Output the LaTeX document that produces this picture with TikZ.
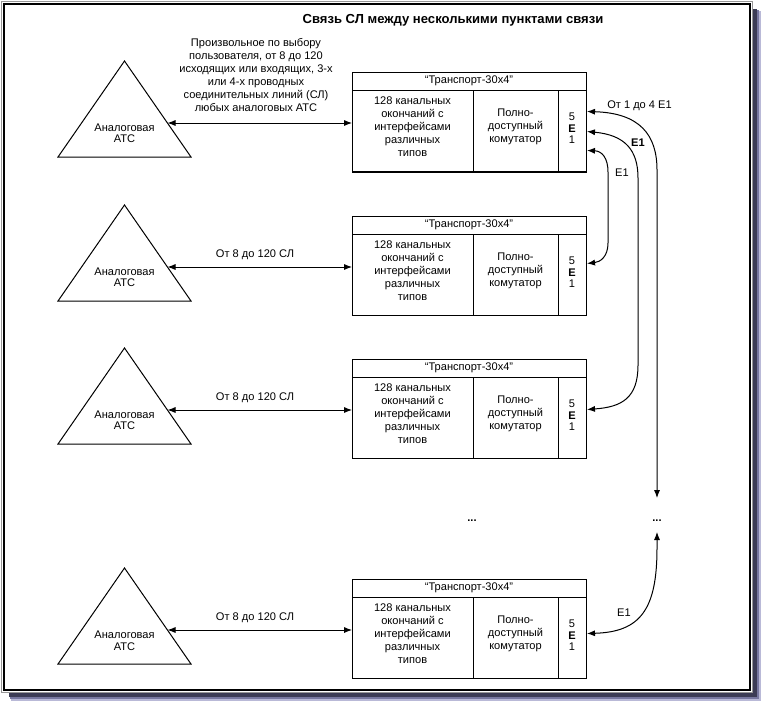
\documentclass[tikz,border=0pt]{standalone}
\usepackage{fontspec}
\setmainfont{Liberation Sans}
\usetikzlibrary{arrows.meta,calc}
\definecolor{shA}{RGB}{185,185,215}
\definecolor{shB}{RGB}{120,120,160}
\definecolor{shC}{RGB}{60,60,85}
\definecolor{frgray}{RGB}{150,150,150}
\begin{document}
\begin{tikzpicture}[x=0.75pt,y=-0.75pt,
  txt/.style={font=\fontsize{8.3}{9.75}\selectfont, align=center, inner sep=0pt},
  tight/.style={font=\fontsize{8.3}{8.6}\selectfont, align=center, inner sep=0pt},
  thin/.style={line width=0.75pt},
  conn/.style={line width=0.75pt, {Latex[length=6pt,width=4.6pt]}-{Latex[length=6pt,width=4.6pt]}},
  blk/.style={draw, line width=0.75pt, minimum width=175.5pt, minimum height=74.25pt, inner sep=0pt, anchor=north west},
]
\useasboundingbox (0,0) rectangle (762,703);
% frame with shadow
\fill[shA] (11,11) rectangle (761,701);
\fill[shB] (10,10) rectangle (759,699);
\fill[shC] (9,9) rectangle (757,697);
\draw[frgray, fill=white, line width=0.75pt] (1,1) rectangle (752.5,692.5);
\draw[line width=1.2pt] (4,4) rectangle (750,690);

\node[font=\bfseries\fontsize{9.8}{11}\selectfont, inner sep=0pt] (title) at (453,20) {Связь СЛ между несколькими пунктами связи};

\foreach \i/\T in {1/72,2/216,3/359,4/579}{
  \draw[thin] (58,\T+85) -- (124.5,\T-11) -- (191,\T+85) -- cycle;
  \node[tight] (atc\i) at (124.5,\T+61.5) {Аналоговая\\АТС};
  \coordinate (tp\i) at (167.5,\T+51);
  \node[blk] (box\i) at (352,\T) {};
  \draw[thin] ($(box\i.north west)+(0,18)$) -- ($(box\i.north east)+(0,18)$);
  \draw[thin] (473,\T+18) -- (473,\T+99);
  \draw[thin] (558,\T+18) -- (558,\T+99);
  \node[txt] (hdr\i) at (469,\T+9) {“Транспорт-30х4”};
  \node[txt] (ch\i) at (412.5,\T+55) {128 канальных\\окончаний с\\интерфейсами\\различных\\типов};
  \node[txt] (sw\i) at (515.5,\T+55) {Полно-\\доступный\\комутатор};
  \node[tight] (e\i) at (572,\T+56.5) {5\\\textbf{E}\\1};
  \draw[conn] (tp\i) -- (tp\i -| box\i.west);
}
\draw[line width=1.5pt] (box1.south west) -- (box1.south east);

\node[txt] (lbl1) at (256,74.5) {Произвольное по выбору\\пользователя, от 8 до 120\\исходящих или входящих, 3-х\\или 4-х проводных\\соединительных линий (СЛ)\\любых аналоговых АТС};
\node[txt] (lbl2) at (255,255) {От 8 до 120 СЛ};
\node[txt] (lbl3) at (255,398) {От 8 до 120 СЛ};
\node[txt] (lbl4) at (255,618) {От 8 до 120 СЛ};

\node[txt, font=\bfseries\fontsize{8.3}{9.75}\selectfont] (dots1) at (472,521) {...};
\node[txt, font=\bfseries\fontsize{8.3}{9.75}\selectfont] (dots2) at (657,521) {...};

\path (box1.east) ++(0,-10.5) coordinate (b1p1) ++(0,20) coordinate (b1p2) ++(0,19) coordinate (b1p3);
\path (box2.east) ++(0,-2.5) coordinate (b2p);
\path (box3.east) ++(0,0.5) coordinate (b3p);
\path (box4.east) ++(0,4.5) coordinate (b4p);
\coordinate (d2top) at ($(dots2)+(0,-23)$);
\coordinate (d2bot) at ($(dots2)+(0,11)$);

\draw[conn] (b1p1) .. controls (640,113) and (657,135) .. (657,170) -- (d2top);
\draw[conn] (b1p2) .. controls (625,135) and (638,150) .. (638,178) -- (638,365) .. controls (638,398) and (622,407) .. (b3p);
\draw[conn] (b1p3) .. controls (602,151) and (608,158) .. (608,172) -- (608,243) .. controls (608,257) and (600,262) .. (b2p);
\draw[conn] (d2bot) -- (657,548) .. controls (657,610) and (640,632) .. (b4p);

\node[txt, anchor=west] (l1) at (607,106) {От 1 до 4 E1};
\node[txt, font=\bfseries\fontsize{8.3}{9.75}\selectfont] (l2) at (638,143) {E1};
\node[txt] (l3) at (622,173) {E1};
\node[txt] (l4) at (624,613) {E1};
\end{tikzpicture}
\end{document}
